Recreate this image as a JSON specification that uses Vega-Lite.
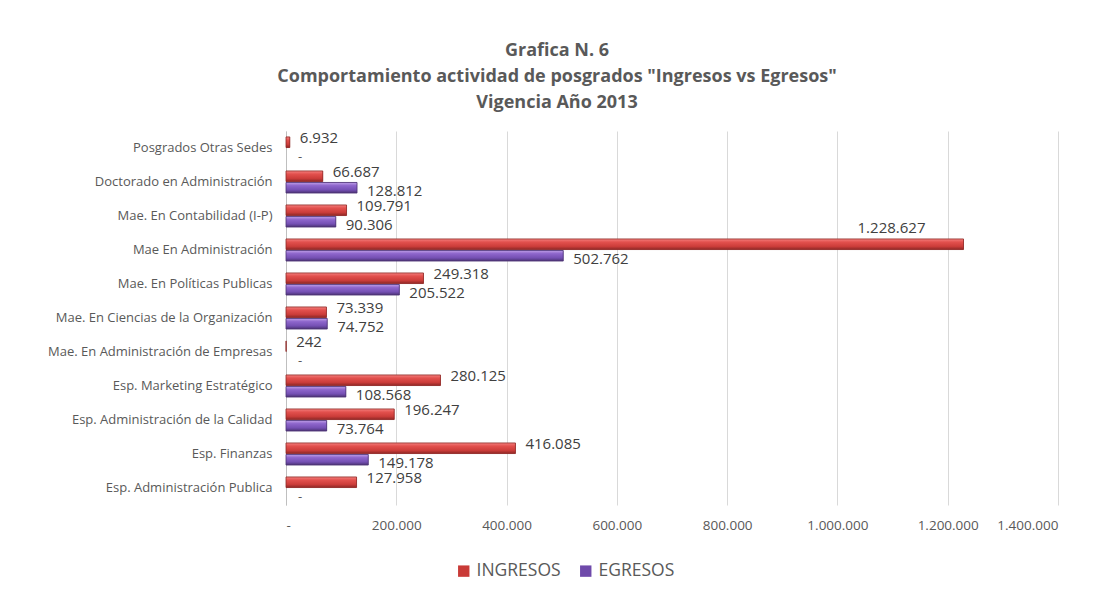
{
  "$schema": "https://vega.github.io/schema/vega-lite/v6.json",
  "autosize": {"type": "none"},
  "width": 772,
  "height": 374,
  "padding": {"left": 286, "top": 131, "right": 57, "bottom": 88},
  "background": "white",
  "config": {
    "locale": {"number": {"decimal": ",", "thousands": ".", "grouping": [3], "currency": ["$", ""]}},
    "view": {"stroke": null},
    "font": "Open Sans"
  },
  "title": {
    "text": ["Grafica N. 6", "Comportamiento actividad de posgrados \"Ingresos vs Egresos\"", "Vigencia Año 2013"],
    "font": "Open Sans",
    "fontSize": 18,
    "fontWeight": "bold",
    "color": "#595959",
    "lineHeight": 26,
    "anchor": "middle",
    "dx": -115,
    "offset": 19
  },
  "data": {
    "values": [
      {"programa": "Posgrados Otras Sedes", "serie": "INGRESOS", "valor": 6932},
      {"programa": "Posgrados Otras Sedes", "serie": "EGRESOS", "valor": 0},
      {"programa": "Doctorado en Administración", "serie": "INGRESOS", "valor": 66687},
      {"programa": "Doctorado en Administración", "serie": "EGRESOS", "valor": 128812},
      {"programa": "Mae. En Contabilidad (I-P)", "serie": "INGRESOS", "valor": 109791},
      {"programa": "Mae. En Contabilidad (I-P)", "serie": "EGRESOS", "valor": 90306},
      {"programa": "Mae En Administración", "serie": "INGRESOS", "valor": 1228627},
      {"programa": "Mae En Administración", "serie": "EGRESOS", "valor": 502762},
      {"programa": "Mae. En Políticas Publicas", "serie": "INGRESOS", "valor": 249318},
      {"programa": "Mae. En Políticas Publicas", "serie": "EGRESOS", "valor": 205522},
      {"programa": "Mae. En Ciencias de la Organización", "serie": "INGRESOS", "valor": 73339},
      {"programa": "Mae. En Ciencias de la Organización", "serie": "EGRESOS", "valor": 74752},
      {"programa": "Mae. En Administración de Empresas", "serie": "INGRESOS", "valor": 242},
      {"programa": "Mae. En Administración de Empresas", "serie": "EGRESOS", "valor": 0},
      {"programa": "Esp. Marketing Estratégico", "serie": "INGRESOS", "valor": 280125},
      {"programa": "Esp. Marketing Estratégico", "serie": "EGRESOS", "valor": 108568},
      {"programa": "Esp. Administración de la Calidad", "serie": "INGRESOS", "valor": 196247},
      {"programa": "Esp. Administración de la Calidad", "serie": "EGRESOS", "valor": 73764},
      {"programa": "Esp. Finanzas", "serie": "INGRESOS", "valor": 416085},
      {"programa": "Esp. Finanzas", "serie": "EGRESOS", "valor": 149178},
      {"programa": "Esp. Administración Publica", "serie": "INGRESOS", "valor": 127958},
      {"programa": "Esp. Administración Publica", "serie": "EGRESOS", "valor": 0}
    ]
  },
  "encoding": {
    "y": {
      "field": "programa",
      "type": "nominal",
      "sort": null,
      "scale": {"paddingInner": 0.35, "paddingOuter": 0.175},
      "axis": {
        "title": null,
        "labelFont": "Open Sans",
        "labelFontSize": 13,
        "labelColor": "#595959",
        "labelPadding": 14,
        "ticks": false,
        "domain": true,
        "domainColor": "#bfbfbf",
        "labelLimit": 300
      }
    },
    "yOffset": {
      "field": "serie",
      "type": "nominal",
      "sort": ["INGRESOS", "EGRESOS"],
      "scale": {"paddingInner": 0.08}
    },
    "x": {
      "field": "valor",
      "type": "quantitative",
      "scale": {"domain": [0, 1400000], "nice": false},
      "axis": {
        "title": null,
        "values": [0, 200000, 400000, 600000, 800000, 1000000, 1200000, 1400000],
        "format": ",d",
        "labelExpr": "datum.value == 0 ? '-' : datum.label",
        "labelFont": "Open Sans",
        "labelFontSize": 13.5,
        "labelColor": "#595959",
        "labelPadding": 13,
        "ticks": false,
        "domain": false,
        "grid": true,
        "gridColor": "#d9d9d9"
      }
    }
  },
  "layer": [
    {
      "transform": [{"filter": "datum.valor > 0"}],
      "mark": {"type": "bar"},
      "encoding": {
        "color": {
          "field": "serie",
          "type": "nominal",
          "scale": {"domain": ["INGRESOS", "EGRESOS"], "range": ["#C93A37", "#6F4AAA"]},
          "legend": {
            "title": null,
            "orient": "none",
            "legendX": 169,
            "legendY": 431,
            "direction": "horizontal",
            "symbolType": "square",
            "symbolSize": 130,
            "labelFont": "Open Sans",
            "labelFontSize": 17.5,
            "labelColor": "#595959",
            "columnPadding": 16,
            "symbolStrokeWidth": 0
          }
        }
      }
    },
    {
      "transform": [{"filter": "datum.valor > 0 && datum.serie == 'INGRESOS'"}],
      "mark": {
        "type": "bar",
        "stroke": "#8E2826",
        "strokeWidth": 0.8,
        "fill": {
          "gradient": "linear", "x1": 0, "y1": 0, "x2": 0, "y2": 1,
          "stops": [
            {"offset": 0, "color": "#F4807E"},
            {"offset": 0.3, "color": "#E2504D"},
            {"offset": 0.7, "color": "#CC3D3A"},
            {"offset": 1, "color": "#8E2826"}
          ]
        }
      },
      "encoding": {}
    },
    {
      "transform": [{"filter": "datum.valor > 0 && datum.serie == 'EGRESOS'"}],
      "mark": {
        "type": "bar",
        "stroke": "#4B3274",
        "strokeWidth": 0.8,
        "fill": {
          "gradient": "linear", "x1": 0, "y1": 0, "x2": 0, "y2": 1,
          "stops": [
            {"offset": 0, "color": "#BFA0E8"},
            {"offset": 0.3, "color": "#8E66CC"},
            {"offset": 0.7, "color": "#7550B4"},
            {"offset": 1, "color": "#4B3274"}
          ]
        }
      },
      "encoding": {}
    },
    {
      "transform": [{"filter": "datum.valor > 0 && datum.valor < 1000000 && datum.serie == 'INGRESOS'"}],
      "mark": {"type": "text", "align": "left", "baseline": "middle", "dx": 10, "dy": -4, "fontSize": 15, "font": "Open Sans", "color": "#404040"},
      "encoding": {"text": {"field": "valor", "type": "quantitative", "format": ",d"}}
    },
    {
      "transform": [{"filter": "datum.valor > 0 && datum.serie == 'EGRESOS'"}],
      "mark": {"type": "text", "align": "left", "baseline": "middle", "dx": 10, "dy": 3, "fontSize": 15, "font": "Open Sans", "color": "#404040"},
      "encoding": {"text": {"field": "valor", "type": "quantitative", "format": ",d"}}
    },
    {
      "transform": [{"filter": "datum.valor >= 1000000"}],
      "mark": {"type": "text", "align": "center", "baseline": "middle", "dx": -72, "dy": -16, "fontSize": 15, "font": "Open Sans", "color": "#404040"},
      "encoding": {"text": {"field": "valor", "type": "quantitative", "format": ",d"}}
    },
    {
      "transform": [{"filter": "datum.valor == 0"}],
      "mark": {"type": "text", "align": "left", "baseline": "middle", "dx": 12, "dy": 3, "fontSize": 13, "font": "Open Sans", "color": "#595959", "text": "-"},
      "encoding": {}
    }
  ]
}
